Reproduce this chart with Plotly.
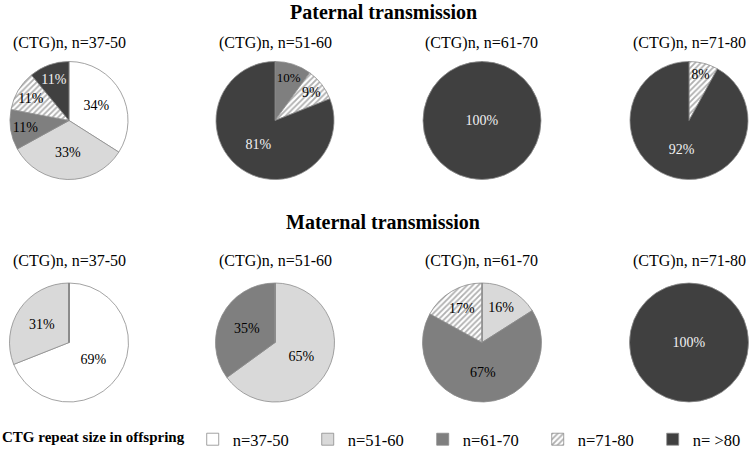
import plotly.graph_objects as go

W, H = 749, 449

categories = ["n=37-50", "n=51-60", "n=61-70", "n=71-80", "n= >80"]
subtitles = ["(CTG)n, n=37-50", "(CTG)n, n=51-60", "(CTG)n, n=61-70", "(CTG)n, n=71-80"]

paternal = [
    [34, 33, 11, 11, 11],
    [0, 0, 10, 9, 81],
    [0, 0, 0, 0, 100],
    [0, 0, 0, 8, 92],
]
maternal = [
    [69, 31, 0, 0, 0],
    [0, 65, 35, 0, 0],
    [0, 16, 67, 17, 0],
    [0, 0, 0, 0, 100],
]

fills = ["#ffffff", "#d9d9d9", "#7f7f7f", "#ffffff", "#404040"]
shapes_ = ["", "", "", "/", ""]
fg = ["#ffffff", "#d9d9d9", "#7f7f7f", "#b0b0b0", "#404040"]
txtcol = ["#000000", "#000000", "#000000", "#000000", "#f2f2f2"]

FONT = "Liberation Serif"

# pixel layout
cx = [69, 275, 482, 689]
R = [59, 59.5]
cy_rows = [120.5, 342.5]
sub_y = [43, 261]
title_y = [12, 222]
titles = ["<b>Paternal transmission</b>", "<b>Maternal transmission</b>"]

fig = go.Figure()

def px_x(v):
    return v / W

def px_y(v):
    return 1 - v / H

for row, data in enumerate([paternal, maternal]):
    r = R[row]
    for i, vals in enumerate(data):
        fig.add_trace(go.Pie(
            labels=categories,
            values=vals,
            text=[f"{v}%" if v > 0 else "" for v in vals],
            textinfo="text",
            textposition="inside",
            insidetextorientation="horizontal",
            sort=False,
            direction="clockwise",
            rotation=0,
            marker=dict(
                colors=fills,
                line=dict(color="#8c8c8c", width=0.8),
                pattern=dict(shape=shapes_, fgcolor=fg, bgcolor=fills,
                             size=4, solidity=0.45, fillmode="replace"),
            ),
            textfont=dict(family=FONT, size=14, color=txtcol),
            hoverinfo="label+text",
            showlegend=True,
            domain=dict(
                x=[px_x(cx[i] - r), px_x(cx[i] + r)],
                y=[px_y(cy_rows[row] + r), px_y(cy_rows[row] - r)],
            ),
        ))
        fig.add_annotation(
            x=px_x(cx[i]), y=px_y(sub_y[row]), xref="paper", yref="paper",
            text=subtitles[i], showarrow=False,
            font=dict(family=FONT, size=16, color="#000000"),
            xanchor="center", yanchor="middle",
        )
    fig.add_annotation(
        x=px_x(383), y=px_y(title_y[row]), xref="paper", yref="paper",
        text=titles[row], showarrow=False,
        font=dict(family=FONT, size=20, color="#000000"),
        xanchor="center", yanchor="middle",
    )

fig.update_layout(
    width=W, height=H,
    margin=dict(l=0, r=0, t=0, b=0, autoexpand=False),
    paper_bgcolor="#ffffff",
    plot_bgcolor="#ffffff",
    font=dict(family=FONT, size=16, color="#000000"),
    legend=dict(
        orientation="h",
        x=0, xanchor="left",
        y=px_y(439.5), yanchor="middle",
        title=dict(text="<b>CTG repeat size in offspring</b>", side="left",
                   font=dict(family=FONT, size=15)),
        font=dict(family=FONT, size=16.5),
        entrywidth=70, entrywidthmode="pixels",
        traceorder="normal",
        bgcolor="rgba(0,0,0,0)",
    ),
)

fig.write_html("out.html", post_script="document.body.style.margin='0';",
               config={"displayModeBar": False})
